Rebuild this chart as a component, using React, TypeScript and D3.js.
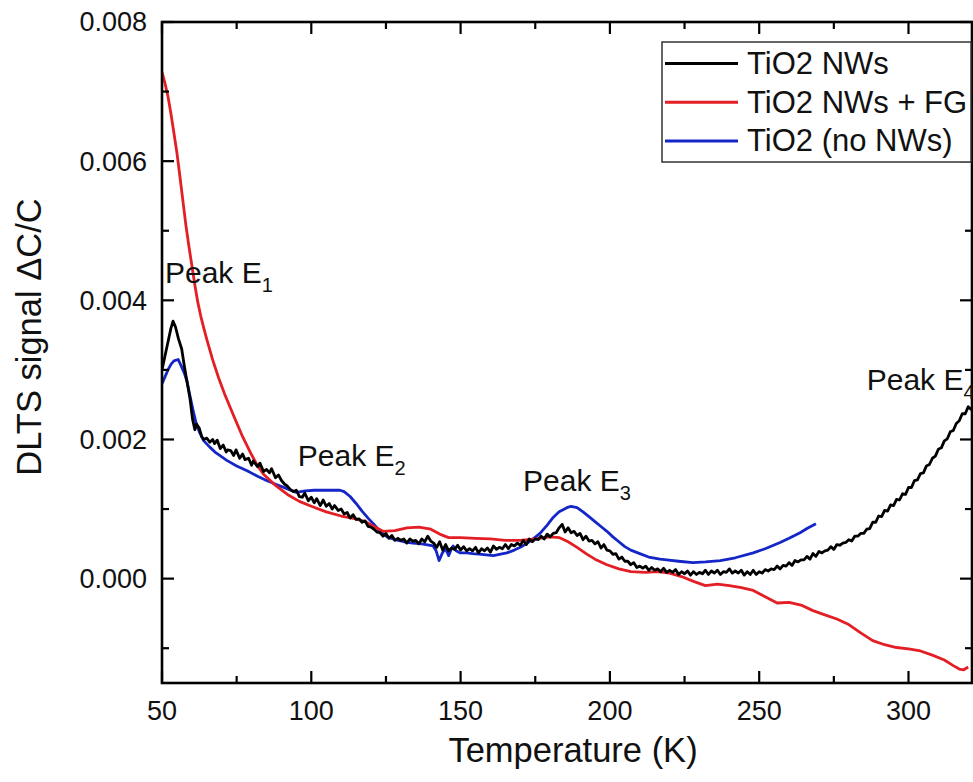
import React from "react";
import * as d3 from "d3";

// ---- data (Temperature K, DLTS signal ΔC/C) ----
const seriesNames = ["TiO2 NWs", "TiO2 NWs + FG", "TiO2 (no NWs)"];
const seriesColors = ["#000000", "#e31e24", "#1426c8"];

const xTicksMajor = [50, 100, 150, 200, 250, 300];
const xTicksMinor = [75, 125, 175, 225, 275];
const yTicksMajor = [0, 0.002, 0.004, 0.006, 0.008];
const yTicksMinor = [-0.001, 0.001, 0.003, 0.005, 0.007];
const yTickLabels = ["0.000", "0.002", "0.004", "0.006", "0.008"];

const nws: [number, number][] = [
  [50, 0.003], [51, 0.0032], [52, 0.0034], [53, 0.0036], [53.7, 0.0037], [54.5, 0.00362],
  [55.5, 0.00345], [56.6, 0.0033], [57.5, 0.00305], [58.5, 0.0028], [59.4, 0.00258], [60.2, 0.0023],
  [61, 0.00214], [61.6, 0.00222], [62.5, 0.00216], [63.3, 0.00204], [64, 0.002], [65, 0.00202], [66, 0.00196],
  [67, 0.002], [67.6, 0.00194], [68.5, 0.00199], [69.5, 0.00187], [70.5, 0.00192], [71.5, 0.00182], [72, 0.00185],
  [73, 0.00184], [74, 0.00177], [74.8, 0.00185], [76, 0.00173], [77, 0.00179], [77.8, 0.00171],
  [79, 0.00173], [80, 0.00163], [80.6, 0.00169], [82, 0.00161], [82.8, 0.00166], [84, 0.00154],
  [85, 0.00157], [86, 0.00152], [86.7, 0.00158], [88, 0.00145], [89, 0.00149], [90, 0.00141],
  [91, 0.00136], [92, 0.00133], [93, 0.00128], [94, 0.00125], [95, 0.00127], [96, 0.00118],
  [97, 0.00117], [97.8, 0.00123], [99, 0.00112], [100, 0.00117], [101, 0.00109], [101.8, 0.00115],
  [103, 0.00105], [104, 0.00113], [105, 0.00104], [106, 0.00108], [107, 0.001], [107.8, 0.00105],
  [109, 0.00098], [110, 0.001], [111, 0.00093], [112, 0.00095], [113, 0.00087], [114, 0.00092],
  [115, 0.00085], [116, 0.00086], [117, 0.00081], [118, 0.00083], [119, 0.00075], [120, 0.00074],
  [121, 0.00071], [122, 0.00067], [123, 0.00066], [124, 0.00061], [125, 0.00065], [126, 0.00058],
  [127, 0.00062], [128, 0.00055], [129, 0.00058], [130, 0.00055], [131, 0.00057], [132, 0.00051],
  [133, 0.00057], [134, 0.00054], [135, 0.00055], [136, 0.0005], [137, 0.00057], [138, 0.00053],
  [139, 0.00061], [140, 0.00054], [141, 0.00051], [142, 0.00045], [143, 0.00053], [144, 0.00041],
  [145, 0.00049], [146, 0.0004], [147, 0.00044], [148, 0.00042], [149, 0.00048], [150, 0.00041],
  [151, 0.00046], [152, 0.0004], [153, 0.00043], [154, 0.0004], [155, 0.00045], [156, 0.00037],
  [157, 0.00043], [158, 0.0004], [159, 0.00044], [160, 0.00038], [161, 0.00047], [162, 0.00042],
  [163, 0.00045], [164, 0.00043], [165, 0.00049], [166, 0.00043], [167, 0.00049], [168, 0.00047],
  [169, 0.00051], [170, 0.00048], [171, 0.00055], [172, 0.00049], [173, 0.00057], [174, 0.00053],
  [175, 0.00057], [176, 0.00056], [177, 0.00061], [178, 0.00057], [179, 0.00064], [180, 0.0006],
  [181, 0.00065], [182, 0.00066], [183, 0.00073], [184, 0.00078], [185, 0.00067], [186, 0.00073],
  [187, 0.00066], [188, 0.00068], [189, 0.00062], [190, 0.00065], [191, 0.00056], [192, 0.00061],
  [193, 0.00054], [194, 0.00055], [195, 0.0005], [196, 0.00053], [197, 0.00044], [198, 0.00049],
  [199, 0.00041], [200, 0.0004], [201, 0.00035], [202, 0.00036], [203, 0.00028], [204, 0.00031],
  [205, 0.00025], [206, 0.00025], [207, 0.0002], [208, 0.00023], [209, 0.00016], [210, 0.00018],
  [211, 0.00015], [212, 0.00018], [213, 0.00012], [214, 0.00016], [215, 0.00012], [216, 0.00014],
  [217, 0.0001], [218, 0.00015], [219, 0.00009], [220, 0.00012], [221, 0.00009], [222, 0.00013],
  [223, 0.00006], [224, 0.0001], [225, 0.00007], [226, 0.00011], [227, 0.00005], [228, 0.0001],
  [229, 0.00006], [230, 0.00009], [231, 0.00007], [232, 0.00012], [233, 0.00006], [234, 0.00011],
  [235, 0.00008], [236, 0.00012], [237, 0.00006], [238, 0.0001], [239, 0.00009], [240, 0.00014],
  [241, 0.00008], [242, 0.00011], [243, 0.00008], [244, 0.00012], [245, 0.00005], [246, 0.0001],
  [247, 0.00006], [248, 0.00012], [249, 0.00006], [250, 0.0001], [251, 0.00008], [252, 0.00013],
  [253, 0.00011], [254, 0.00014], [255, 0.00013], [256, 0.00018], [257, 0.00014], [258, 0.00019],
  [259, 0.00018], [260, 0.00023], [261, 0.00019], [262, 0.00026], [263, 0.00024], [264, 0.00027],
  [265, 0.00027], [266, 0.00032], [267, 0.00028], [268, 0.00036], [269, 0.00032], [270, 0.00039],
  [271, 0.00037], [272, 0.0004], [273, 0.00041], [274, 0.00046], [275, 0.00042], [276, 0.00049],
  [277, 0.00048], [278, 0.00051], [279, 0.00052], [280, 0.00056], [281, 0.00054], [282, 0.00061],
  [283, 0.00061], [284, 0.00065], [285, 0.00065], [286, 0.00071], [287, 0.00072], [288, 0.00081],
  [289, 0.00081], [290, 0.0009], [291, 0.00089], [292, 0.00098], [293, 0.00097], [294, 0.00106],
  [295, 0.00105], [296, 0.00114], [297, 0.00113], [298, 0.00122], [299, 0.00121], [300, 0.00131],
  [301, 0.00131], [302, 0.00141], [303, 0.00142], [304, 0.00151], [305, 0.00152], [306, 0.00162],
  [307, 0.00164], [308, 0.00173], [309, 0.00176], [310, 0.00186], [311, 0.00188], [312, 0.00198],
  [313, 0.00201], [314, 0.00211], [315, 0.00213], [316, 0.00223], [317, 0.00227], [318, 0.00237],
  [319, 0.00237], [320, 0.00247], [321, 0.00243], [322, 0.0025],
];

const nwsFg: [number, number][] = [
  [50, 0.00728], [51, 0.00712], [52, 0.00693], [53, 0.00668], [54, 0.0064], [55, 0.00612],
  [56, 0.00578], [57, 0.00543], [58, 0.00508], [59, 0.00478], [60, 0.0045], [61, 0.00422],
  [62, 0.00397], [63, 0.00377], [64, 0.0036], [65, 0.00344], [67, 0.00314], [69, 0.00288],
  [71, 0.00265], [74, 0.00234], [77, 0.00204], [80, 0.00178], [82, 0.00162], [84, 0.0015],
  [88, 0.00134], [92, 0.00121], [96, 0.00111], [100, 0.00104], [105, 0.00096], [110, 0.0009],
  [115, 0.00086], [118, 0.00082], [121, 0.00075], [124, 0.00068], [128, 0.00069], [132, 0.00073],
  [136, 0.00074], [140, 0.00071], [143, 0.00064], [146, 0.00059], [150, 0.00059], [155, 0.00058],
  [160, 0.00057], [165, 0.00055], [170, 0.00055], [175, 0.00057], [180, 0.0006], [183, 0.00059],
  [186, 0.00053], [189, 0.00045], [192, 0.00036], [195, 0.00028], [199, 0.0002], [203, 0.00014],
  [207, 0.0001], [212, 0.00009], [216, 0.0001], [220, 0.00008], [224, 0.00003], [228, -0.00004],
  [232, -0.0001], [236, -0.00008], [240, -0.0001], [244, -0.00013], [248, -0.00017], [252, -0.00026],
  [256, -0.00035], [260, -0.00034], [264, -0.00038], [268, -0.00046], [272, -0.00052], [276, -0.00058],
  [280, -0.00066], [284, -0.00078], [288, -0.00089], [292, -0.00095], [296, -0.00099], [300, -0.00101],
  [304, -0.00104], [308, -0.0011], [312, -0.00117], [315, -0.00125], [317, -0.0013], [318.5, -0.00131],
  [320, -0.00127],
];

const noNws: [number, number][] = [
  [50, 0.0028], [51, 0.0029], [52, 0.003], [53, 0.00308], [54, 0.00313], [55.4, 0.00315],
  [56.5, 0.00305], [57.5, 0.00295], [58.4, 0.00283], [59.4, 0.00262], [60.4, 0.00242], [61.5, 0.00222],
  [62.7, 0.00209], [64, 0.00198], [66, 0.00189], [68, 0.00181], [71.7, 0.0017], [75, 0.00162],
  [78.5, 0.00155], [82, 0.00147], [85, 0.00141], [88.5, 0.00135], [92, 0.00129], [95, 0.00124],
  [98, 0.00126], [101, 0.00127], [104, 0.00127], [107, 0.00127], [109.6, 0.00127], [111, 0.00125],
  [113, 0.00118], [115, 0.00108], [117, 0.00097], [119, 0.00087], [121, 0.00078], [123, 0.00068],
  [125.4, 0.0006], [128, 0.00056], [131, 0.00053], [134, 0.00051], [137, 0.0005], [140.8, 0.00047],
  [141.8, 0.0004], [142.8, 0.00026], [143.8, 0.00036], [144.8, 0.00043], [145.5, 0.00038], [146, 0.00033],
  [146.8, 0.00042], [147.5, 0.00047], [148.5, 0.0004], [149.8, 0.00037], [152, 0.00037], [154, 0.00036],
  [157, 0.00035], [161, 0.00033], [163, 0.00035], [165.5, 0.00037], [168, 0.00041], [170, 0.00045],
  [172, 0.0005], [174, 0.00056], [176.6, 0.00065], [179, 0.00077], [181, 0.00088], [183, 0.00096],
  [185.6, 0.00102], [187, 0.00104], [189, 0.00102], [191, 0.00096], [193.3, 0.00088], [195, 0.00082],
  [196.7, 0.00076], [199, 0.00068], [201, 0.0006], [203, 0.00053], [205, 0.00046], [207, 0.00041],
  [210, 0.00036], [213, 0.00031], [216.8, 0.00028], [219, 0.00027], [223, 0.00025], [227.8, 0.00023],
  [232, 0.00024], [237, 0.00026], [242, 0.0003], [248, 0.00037], [252, 0.00043], [257, 0.00052],
  [260, 0.00058], [263.7, 0.00066], [266, 0.00072], [269, 0.00079],
];

const peakLabels = [
  { t: 51.0, v: 0.00425, sub: "1" },
  { t: 95.5, v: 0.00162, sub: "2" },
  { t: 170.9, v: 0.00126, sub: "3" },
  { t: 286.0, v: 0.00271, sub: "4" },
];

const FONT = "'Liberation Sans', Arial, sans-serif";

export default function App() {
  const left = 162, right = 972, top = 22, bottom = 683;
  const x = d3.scaleLinear().domain([50, 50 + (right - left) / 2.986]).range([left, right]);
  const y = d3.scaleLinear().domain([-0.0015, 0.008]).range([bottom, top]);
  const line = d3.line<[number, number]>().x((d) => x(d[0])).y((d) => y(d[1]));
  const series = [nws, nwsFg, noNws];

  return (
    <svg width={973} height={782} style={{ position: "absolute", left: 0, top: 0, background: "#fff" }}
      fontFamily={FONT}>
      <rect x={0} y={0} width={973} height={782} fill="#fff" />
      <defs>
        <clipPath id="plot">
          <rect x={left} y={top} width={right - left} height={bottom - top} />
        </clipPath>
      </defs>
      <g clipPath="url(#plot)">
        {[...series].reverse().map((s, i) => {
          const idx = series.length - 1 - i;
          return (
            <path key={idx} d={line(s) || ""} fill="none" stroke={seriesColors[idx]}
              strokeWidth={2.8} strokeLinejoin="round" />
          );
        })}
      </g>
      {/* frame */}
      <rect x={left} y={top} width={right - left} height={bottom - top} fill="none" stroke="#000" strokeWidth={2.6} />
      {/* x ticks */}
      {xTicksMajor.map((t) => (
        <g key={"xm" + t}>
          <line x1={x(t)} x2={x(t)} y1={bottom} y2={bottom - 12} stroke="#000" strokeWidth={2.2} />
          <line x1={x(t)} x2={x(t)} y1={top} y2={top + 12} stroke="#000" strokeWidth={2.2} />
          <text x={x(t)} y={720} fontSize={27} textAnchor="middle" fill="#111">{t}</text>
        </g>
      ))}
      {xTicksMinor.map((t) => (
        <g key={"xn" + t}>
          <line x1={x(t)} x2={x(t)} y1={bottom} y2={bottom - 7} stroke="#000" strokeWidth={2.2} />
          <line x1={x(t)} x2={x(t)} y1={top} y2={top + 7} stroke="#000" strokeWidth={2.2} />
        </g>
      ))}
      {/* y ticks */}
      {yTicksMajor.map((t, i) => (
        <g key={"ym" + t}>
          <line x1={left} x2={left + 12} y1={y(t)} y2={y(t)} stroke="#000" strokeWidth={2.2} />
          <line x1={right} x2={right - 12} y1={y(t)} y2={y(t)} stroke="#000" strokeWidth={2.2} />
          <text x={147} y={y(t)} dy="0.35em" fontSize={27} textAnchor="end" fill="#111">{yTickLabels[i]}</text>
        </g>
      ))}
      {yTicksMinor.map((t) => (
        <g key={"yn" + t}>
          <line x1={left} x2={left + 7} y1={y(t)} y2={y(t)} stroke="#000" strokeWidth={2.2} />
          <line x1={right} x2={right - 7} y1={y(t)} y2={y(t)} stroke="#000" strokeWidth={2.2} />
        </g>
      ))}
      {/* axis titles */}
      <text x={573} y={762} fontSize={34.5} textAnchor="middle" fill="#111">Temperature (K)</text>
      <text transform="translate(41,337) rotate(-90)" fontSize={34.5} textAnchor="middle" fill="#111">
        DLTS signal ΔC/C
      </text>
      {/* peak labels */}
      {peakLabels.map((p) => (
        <text key={p.sub} x={x(p.t)} y={y(p.v)} fontSize={30} fill="#111">
          Peak E<tspan fontSize={20} dy={9}>{p.sub}</tspan>
        </text>
      ))}
      {/* legend */}
      <rect x={662} y={42} width={309} height={120} fill="#fff" stroke="#333" strokeWidth={1.5} />
      {seriesNames.map((n, i) => {
        const yy = 63.5 + i * 38.7;
        return (
          <g key={n}>
            <line x1={665} x2={738} y1={yy} y2={yy} stroke={seriesColors[i]} strokeWidth={3} />
            <text x={747} y={yy + 10.5} fontSize={31} fill="#111">{n}</text>
          </g>
        );
      })}
    </svg>
  );
}
